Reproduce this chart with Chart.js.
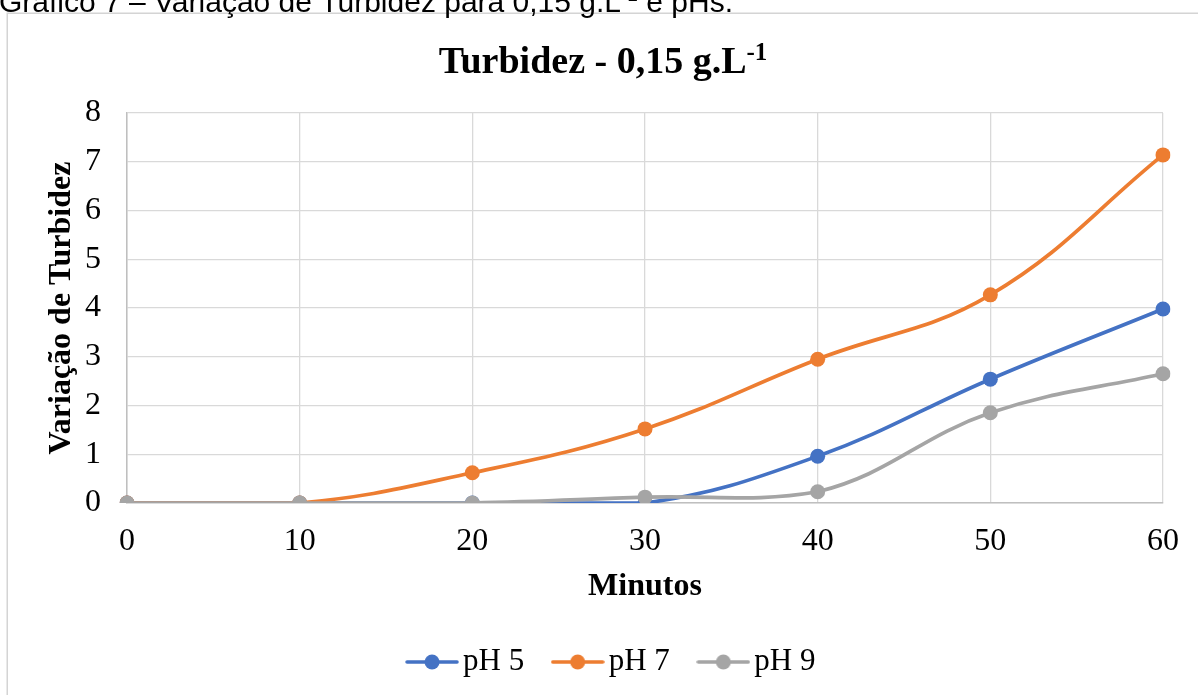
<!DOCTYPE html>
<html lang="pt">
<head>
<meta charset="utf-8">
<title>Turbidez - 0,15 g.L-1</title>
<script src="https://cdn.jsdelivr.net/npm/chart.js@4/dist/chart.umd.min.js"></script>
<style>
  html, body { margin: 0; padding: 0; background: #ffffff; }
  #wrap { position: relative; width: 1198px; height: 695px; overflow: hidden; }
  canvas { display: block; }
</style>
</head>
<body>
<div id="wrap"><canvas id="grafico" width="1198" height="695"></canvas></div>
<script>
// Minutos de ensaio
const minutos = ['0', '10', '20', '30', '40', '50', '60'];
// Variação de turbidez por pH
const ph5 = [0, 0, 0, 0, 0.96, 2.54, 3.98];
const ph7 = [0, 0, 0.62, 1.52, 2.95, 4.27, 7.14];
const ph9 = [0, 0, 0, 0.12, 0.23, 1.85, 2.65];
const serieNomes = ['pH 5', 'pH 7', 'pH 9'];
const serieCores = ['#4472C4', '#ED7D31', '#A5A5A5'];
const yTicks = [0, 1, 2, 3, 4, 5, 6, 7, 8];

const SERIF = '"Liberation Serif", "Times New Roman", Times, serif';
const SANS = '"Liberation Sans", Arial, Helvetica, sans-serif';

// Marcador de legenda: traço com bolinha no meio
function marcador(cor) {
  const c = document.createElement('canvas');
  c.width = 54; c.height = 16;
  const g = c.getContext('2d');
  g.strokeStyle = cor; g.lineWidth = 3.5; g.lineCap = 'round';
  g.beginPath(); g.moveTo(2, 8); g.lineTo(52, 8); g.stroke();
  g.fillStyle = cor;
  g.beginPath(); g.arc(27, 8, 7.5, 0, Math.PI * 2); g.fill();
  return c;
}

// Texto com expoente (ex.: L^-1)
function textoComExpoente(ctx, partes, x, y, fonte, fonteSup, subida, align) {
  ctx.save();
  let larg = 0;
  const medidas = partes.map(p => {
    ctx.font = p.sup ? fonteSup : fonte;
    const w = ctx.measureText(p.t).width;
    larg += w;
    return w;
  });
  let cx = align === 'center' ? x - larg / 2 : x;
  ctx.textBaseline = 'alphabetic';
  ctx.textAlign = 'left';
  partes.forEach((p, i) => {
    ctx.font = p.sup ? fonteSup : fonte;
    ctx.fillText(p.t, cx, p.sup ? y - subida : y);
    cx += medidas[i];
  });
  ctx.restore();
}

const molduraETitulo = {
  id: 'molduraETitulo',
  beforeDraw(chart) {
    const ctx = chart.ctx;
    ctx.save();
    ctx.fillStyle = '#ffffff';
    ctx.fillRect(0, 0, chart.width, chart.height);
    ctx.strokeStyle = '#d4d4d4';
    ctx.lineWidth = 1.5;
    ctx.strokeRect(7.25, 13.25, 1400, 900);
    ctx.fillStyle = '#000000';
    // Legenda da figura
    textoComExpoente(ctx, [
      { t: 'Gráfico 7 – Variação de Turbidez para 0,15 g.L' },
      { t: '-1', sup: true },
      { t: ' e pHs.' }
    ], -1, 12, '30px ' + SANS, '19px ' + SANS, 11, 'left');
    // Título do gráfico
    textoComExpoente(ctx, [
      { t: 'Turbidez - 0,15 g.L' },
      { t: '-1', sup: true }
    ], 603, 73, 'bold 38px ' + SERIF, 'bold 25px ' + SERIF, 13, 'center');
    ctx.restore();
  }
};

// Desloca a legenda para a direita, alinhando-a sob a área do gráfico
const ajusteLegenda = {
  id: 'ajusteLegenda',
  afterLayout(chart) {
    const lg = chart.legend;
    if (lg) { lg.left += 12; lg.right += 12; }
  }
};

const valores = [ph5, ph7, ph9];
const datasets = valores.map((v, i) => ({
  label: serieNomes[i],
  data: v,
  borderColor: serieCores[i],
  backgroundColor: serieCores[i],
  borderWidth: 3.7,
  pointRadius: 7.5,
  pointHoverRadius: 7.5,
  pointBorderWidth: 0,
  pointStyle: 'circle',
  tension: 0.4,
  fill: false,
  order: 3 - i
}));

new Chart(document.getElementById('grafico'), {
  type: 'line',
  data: { labels: minutos, datasets },
  plugins: [molduraETitulo, ajusteLegenda],
  options: {
    responsive: false,
    animation: false,
    devicePixelRatio: 1,
    layout: { padding: { left: 43, right: 33, top: 113, bottom: 7.5 } },
    scales: {
      x: {
        type: 'category',
        offset: false,
        grid: { color: '#d9d9d9', lineWidth: 1.3, drawTicks: false },
        border: { color: '#bfbfbf', width: 1.5 },
        ticks: { color: '#000', font: { family: SERIF, size: 32 }, padding: 19, maxRotation: 0, autoSkip: false },
        title: { display: true, text: 'Minutos', color: '#000', font: { family: SERIF, size: 32, weight: 'bold' }, padding: { top: 0, bottom: 3 } },
        afterFit(s) { s.height = 105.5; }
      },
      y: {
        min: 0,
        max: 8,
        afterBuildTicks(s) { s.ticks = yTicks.map(v => ({ value: v })); },
        grid: { color: '#d9d9d9', lineWidth: 1.3, drawTicks: false },
        border: { color: '#bfbfbf', width: 1.5 },
        ticks: { color: '#000', font: { family: SERIF, size: 32 }, padding: 26 },
        title: { display: true, text: 'Variação de Turbidez', color: '#000', font: { family: SERIF, size: 32, weight: 'bold' }, padding: 0 },
        afterFit(s) { s.width = 84; }
      }
    },
    plugins: {
      title: { display: false },
      tooltip: { enabled: false },
      legend: {
        position: 'bottom',
        labels: {
          usePointStyle: true,
          pointStyleWidth: 31,
          padding: 38,
          color: '#000',
          font: { family: SERIF, size: 31 },
          sort: (a, b) => a.datasetIndex - b.datasetIndex,
          generateLabels(chart) {
            return chart.data.datasets.map((d, i) => ({
              text: d.label,
              pointStyle: marcador(serieCores[i]),
              fillStyle: serieCores[i],
              strokeStyle: serieCores[i],
              lineWidth: 0,
              hidden: false,
              datasetIndex: i,
              fontColor: '#000'
            }));
          }
        }
      }
    }
  }
});
</script>
</body>
</html>
